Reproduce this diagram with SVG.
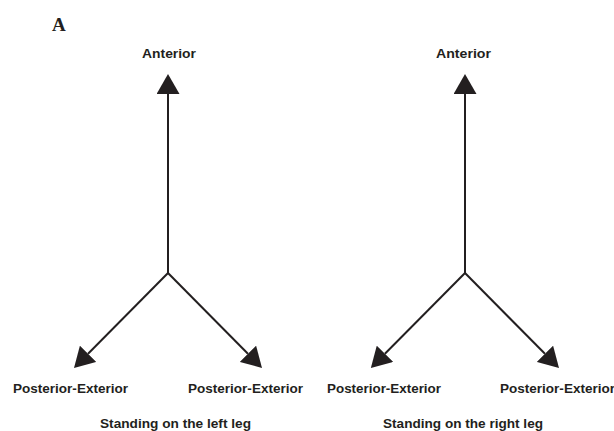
<svg xmlns="http://www.w3.org/2000/svg" width="614" height="431" viewBox="0 0 614 431">
<style>
.lbl{font-family:"Liberation Sans",Arial,sans-serif;font-weight:bold;font-size:13.5px;fill:#231f20}
.ttl{font-family:"Liberation Serif","Times New Roman",serif;font-weight:bold;font-size:19px;fill:#231f20}
.ax{stroke:#231f20;stroke-width:2;fill:none;marker-end:url(#ah)}
</style>
<defs>
<marker id="ah" viewBox="0 0 20 23" refX="0" refY="11.5" markerWidth="20" markerHeight="23" markerUnits="userSpaceOnUse" orient="auto">
<path d="M0,0 L20,11.5 L0,23 Z" fill="#231f20"/>
</marker>
</defs>
<rect width="614" height="431" fill="#fff"/>
<text class="ttl" x="52" y="31">A</text>
<g id="connectors">
<path class="ax" d="M168,273 L168,94"/>
<path class="ax" d="M168,273 L88.07,353.78"/>
<path class="ax" d="M168,273 L247.93,353.78"/>
<path class="ax" d="M465,273 L465,94"/>
<path class="ax" d="M465,273 L384.93,353.78"/>
<path class="ax" d="M465,273 L544.93,353.78"/>
</g>
<g id="left-anterior"><text class="lbl" x="142" y="58" textLength="54" lengthAdjust="spacingAndGlyphs">Anterior</text></g>
<g id="left-posterior-1"><text class="lbl" x="13" y="393" textLength="115" lengthAdjust="spacingAndGlyphs">Posterior-Exterior</text></g>
<g id="left-posterior-2"><text class="lbl" x="188" y="393" textLength="115" lengthAdjust="spacingAndGlyphs">Posterior-Exterior</text></g>
<g id="left-caption"><text class="lbl" x="100" y="428" textLength="151" lengthAdjust="spacingAndGlyphs">Standing on the left leg</text></g>
<g id="right-anterior"><text class="lbl" x="436" y="58" textLength="55" lengthAdjust="spacingAndGlyphs">Anterior</text></g>
<g id="right-posterior-1"><text class="lbl" x="327" y="393" textLength="114" lengthAdjust="spacingAndGlyphs">Posterior-Exterior</text></g>
<g id="right-posterior-2"><text class="lbl" x="500" y="393" textLength="115" lengthAdjust="spacingAndGlyphs">Posterior-Exterior</text></g>
<g id="right-caption"><text class="lbl" x="383" y="428" textLength="160" lengthAdjust="spacingAndGlyphs">Standing on the right leg</text></g>
</svg>
